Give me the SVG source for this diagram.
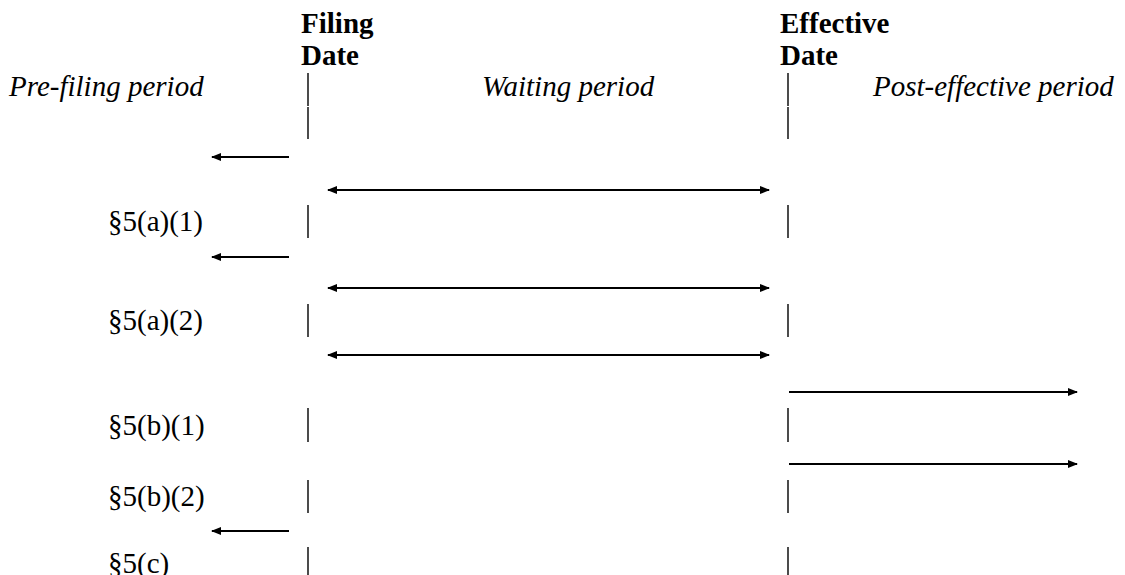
<svg xmlns="http://www.w3.org/2000/svg" width="1125" height="575" viewBox="0 0 1125 575">
<style>
.t{font-family:"Liberation Serif","Times New Roman",serif;font-size:29px;fill:#000}
.b{font-weight:bold}
.i{font-style:italic}
.bar{stroke:#000;stroke-width:1.4;fill:none}
.arr{stroke:#000;stroke-width:1.8;fill:none}
</style>
<defs>
<marker id="ah" viewBox="0 0 10 8" refX="9" refY="4" markerWidth="10" markerHeight="8" markerUnits="userSpaceOnUse" orient="auto-start-reverse">
<path d="M0,0 L10,4 L0,8 z" fill="#000"/>
</marker>
</defs>
<rect width="1125" height="575" fill="#fff"/>
<g id="headers">
<text class="t b" x="301" y="33">Filing</text>
<text class="t b" x="301" y="65">Date</text>
<text class="t b" x="780" y="33">Effective</text>
<text class="t b" x="780" y="65">Date</text>
<text class="t i" x="9" y="96">Pre-filing period</text>
<text class="t i" x="482" y="96">Waiting period</text>
<text class="t i" x="873" y="96">Post-effective period</text>
</g>
<g id="labels">
<text class="t" x="108" y="231">§5(a)(1)</text>
<text class="t" x="108" y="330">§5(a)(2)</text>
<text class="t" x="108" y="435">§5(b)(1)</text>
<text class="t" x="108" y="506">§5(b)(2)</text>
<text class="t" x="108" y="573">§5(c)</text>
</g>
<g id="bars">
<path class="bar" d="M308,73V106M308,107V139M788,73V106M788,107V139"/>
<path class="bar" d="M308,205V238M788,205V238"/>
<path class="bar" d="M308,304V337M788,304V337"/>
<path class="bar" d="M308,408V442M788,408V442"/>
<path class="bar" d="M308,480V513M788,480V513"/>
<path class="bar" d="M308,547V575M788,547V575"/>
</g>
<g id="connectors">
<line class="arr" x1="289" y1="157" x2="212" y2="157" marker-end="url(#ah)"/>
<line class="arr" x1="328" y1="190" x2="769" y2="190" marker-start="url(#ah)" marker-end="url(#ah)"/>
<line class="arr" x1="289" y1="257" x2="212" y2="257" marker-end="url(#ah)"/>
<line class="arr" x1="328" y1="288" x2="769" y2="288" marker-start="url(#ah)" marker-end="url(#ah)"/>
<line class="arr" x1="328" y1="355" x2="769" y2="355" marker-start="url(#ah)" marker-end="url(#ah)"/>
<line class="arr" x1="789" y1="392" x2="1077" y2="392" marker-end="url(#ah)"/>
<line class="arr" x1="789" y1="464" x2="1077" y2="464" marker-end="url(#ah)"/>
<line class="arr" x1="289" y1="531" x2="212" y2="531" marker-end="url(#ah)"/>
</g>
</svg>
